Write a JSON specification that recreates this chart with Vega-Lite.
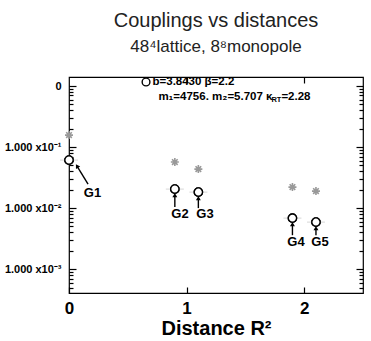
{
  "$schema": "https://vega.github.io/schema/vega-lite/v6.json",
  "width": 294,
  "height": 216,
  "autosize": "none",
  "padding": {"left": 69, "top": 77, "right": 8, "bottom": 48},
  "background": "white",
  "title": {
    "text": "Couplings vs distances",
    "subtitle": "48⁴lattice, 8⁸monopole",
    "font": "Liberation Sans",
    "fontSize": 20,
    "fontWeight": "normal",
    "color": "#222222",
    "subtitleFont": "Liberation Sans",
    "subtitleFontSize": 17,
    "subtitleColor": "#222222",
    "anchor": "middle",
    "offset": 20,
    "subtitlePadding": 8
  },
  "config": {
    "view": {"stroke": "black", "strokeWidth": 1.2},
    "axis": {"grid": false, "domain": false, "ticks": true, "tickColor": "black", "tickWidth": 1.2, "labelColor": "black", "titleColor": "black", "labelFlush": false}
  },
  "datasets": {
    "pts": [
      {"name": "G1", "r2": 0.0, "coupling": 0.0612, "star": 0.157},
      {"name": "G2", "r2": 0.9, "coupling": 0.0205, "star": 0.0568},
      {"name": "G3", "r2": 1.1, "coupling": 0.0183, "star": 0.0436},
      {"name": "G4", "r2": 1.9, "coupling": 0.00686, "star": 0.0221},
      {"name": "G5", "r2": 2.1, "coupling": 0.0059, "star": 0.019}
    ],
    "ann": [
      {"name": "G1", "tx": 0.162, "ty": 0.0247, "hx": 0.068, "hy": 0.0489, "lx": 0.2, "ly": 0.0178},
      {"name": "G2", "tx": 0.9, "ty": 0.0104, "hx": 0.9, "hy": 0.0163, "lx": 0.944, "ly": 0.0080},
      {"name": "G3", "tx": 1.1, "ty": 0.0100, "hx": 1.1, "hy": 0.01459, "lx": 1.156, "ly": 0.0080},
      {"name": "G4", "tx": 1.9, "ty": 0.0036, "hx": 1.9, "hy": 0.00547, "lx": 1.93, "ly": 0.00277},
      {"name": "G5", "tx": 2.1, "ty": 0.0036, "hx": 2.1, "hy": 0.0047, "lx": 2.134, "ly": 0.00277}
    ],
    "leg": [
      {"part": "circle", "x": 0.655, "y": 1.163, "t": ""},
      {"part": "main", "x": 0.71, "y": 1.163, "t": "b=3.8430 β=2.2"},
      {"part": "main", "x": 0.76, "y": 0.66, "t": "m₁=4756. m₂=5.707 κ"},
      {"part": "sub", "x": 0.76, "y": 0.66, "t": "RT"},
      {"part": "tail", "x": 0.76, "y": 0.66, "t": "=2.28"}
    ]
  },
  "layer": [
    {
      "data": {"name": "pts"},
      "mark": {"type": "point", "shape": "circle", "filled": false, "fill": "white", "fillOpacity": 1, "stroke": "black", "strokeWidth": 1.4, "size": 70, "opacity": 1},
      "encoding": {
        "x": {"field": "r2", "type": "quantitative", "scale": {"domain": [0, 2.5], "nice": false, "zero": false},
          "axis": {"orient": "bottom", "values": [0, 1, 2], "format": "d", "offset": -6, "tickSize": 6, "labelPadding": 7,
            "labelFont": "Liberation Sans", "labelFontWeight": "bold", "labelFontSize": 17,
            "title": "Distance R²", "titleFont": "Liberation Sans", "titleFontWeight": "bold", "titleFontSize": 20, "titlePadding": 2}},
        "y": {"field": "coupling", "type": "quantitative", "scale": {"type": "log", "domain": [0.000407, 1.405], "nice": false},
          "axis": {"orient": "left", "title": null, "values": [0.001, 0.01, 0.1, 1],
            "labelExpr": "datum.value == 1 ? '0' : datum.value == 0.1 ? '1.000 x10⁻¹' : datum.value == 0.01 ? '1.000 x10⁻²' : '1.000 x10⁻³'",
            "offset": -7, "tickSize": 7, "labelPadding": 8,
            "labelFont": "Liberation Sans", "labelFontWeight": "bold", "labelFontSize": 11}}
      }
    },
    {
      "data": {"name": "pts"},
      "mark": {"type": "point", "shape": "M0,-1L0,1M-1,0L1,0M-0.7,-0.7L0.7,0.7M-0.7,0.7L0.7,-0.7", "filled": false, "stroke": "#999999", "strokeWidth": 1.6, "size": 64, "opacity": 1},
      "encoding": {
        "x": {"field": "r2", "type": "quantitative", "scale": {"domain": [0, 2.5], "nice": false, "zero": false},
          "axis": {"orient": "top", "values": [1, 2], "labels": false, "tickSize": -6, "title": ""}},
        "y": {"field": "star", "type": "quantitative", "scale": {"type": "log", "domain": [0.000407, 1.405], "nice": false},
          "axis": {"orient": "right", "title": "", "labels": false, "values": [0.001, 0.01, 0.1, 1], "tickSize": -7}}
      }
    },
    {
      "data": {"name": "pts"},
      "mark": {"type": "tick", "orient": "horizontal", "size": 18, "thickness": 1, "color": "#c4c4c4"},
      "encoding": {
        "x": {"field": "r2", "type": "quantitative", "scale": {"domain": [0, 2.5], "nice": false, "zero": false}, "axis": null},
        "y": {"field": "coupling", "type": "quantitative", "scale": {"type": "log", "domain": [0.000407, 1.405], "nice": false},
          "axis": {"orient": "left", "title": "", "labels": false, "tickSize": -4,
            "values": [0.0005, 0.0006, 0.0007, 0.0008, 0.0009, 0.002, 0.003, 0.004, 0.005, 0.006, 0.007, 0.008, 0.009, 0.02, 0.03, 0.04, 0.05, 0.06, 0.07, 0.08, 0.09, 0.2, 0.3, 0.4, 0.5, 0.6, 0.7, 0.8, 0.9]}}
      }
    },
    {
      "data": {"name": "pts"},
      "mark": {"type": "point", "shape": "circle", "filled": false, "fill": "white", "fillOpacity": 1, "stroke": "black", "strokeWidth": 1.4, "size": 70, "opacity": 1},
      "encoding": {
        "x": {"field": "r2", "type": "quantitative", "scale": {"domain": [0, 2.5], "nice": false, "zero": false}, "axis": null},
        "y": {"field": "coupling", "type": "quantitative", "scale": {"type": "log", "domain": [0.000407, 1.405], "nice": false},
          "axis": {"orient": "right", "title": "", "labels": false, "tickSize": -4,
            "values": [0.0005, 0.0006, 0.0007, 0.0008, 0.0009, 0.002, 0.003, 0.004, 0.005, 0.006, 0.007, 0.008, 0.009, 0.02, 0.03, 0.04, 0.05, 0.06, 0.07, 0.08, 0.09, 0.2, 0.3, 0.4, 0.5, 0.6, 0.7, 0.8, 0.9]}}
      }
    },
    {
      "data": {"name": "ann"},
      "mark": {"type": "rule", "color": "black", "strokeWidth": 1.4},
      "encoding": {
        "x": {"field": "tx", "type": "quantitative", "scale": {"domain": [0, 2.5], "nice": false, "zero": false}, "axis": null},
        "y": {"field": "ty", "type": "quantitative", "scale": {"type": "log", "domain": [0.000407, 1.405], "nice": false}, "axis": null},
        "x2": {"field": "hx"},
        "y2": {"field": "hy"}
      }
    },
    {
      "data": {"name": "ann"},
      "transform": [{"filter": "datum.name != 'G1'"}],
      "mark": {"type": "point", "shape": "triangle-up", "filled": true, "color": "black", "size": 24, "opacity": 1},
      "encoding": {
        "x": {"field": "hx", "type": "quantitative", "scale": {"domain": [0, 2.5], "nice": false, "zero": false}, "axis": null},
        "y": {"field": "hy", "type": "quantitative", "scale": {"type": "log", "domain": [0.000407, 1.405], "nice": false}, "axis": null}
      }
    },
    {
      "data": {"name": "ann"},
      "transform": [{"filter": "datum.name == 'G1'"}],
      "mark": {"type": "point", "shape": "triangle-up", "filled": true, "color": "black", "size": 24, "opacity": 1, "angle": 329},
      "encoding": {
        "x": {"field": "hx", "type": "quantitative", "scale": {"domain": [0, 2.5], "nice": false, "zero": false}, "axis": null},
        "y": {"field": "hy", "type": "quantitative", "scale": {"type": "log", "domain": [0.000407, 1.405], "nice": false}, "axis": null}
      }
    },
    {
      "data": {"name": "ann"},
      "mark": {"type": "text", "font": "Liberation Sans", "fontWeight": "bold", "fontSize": 13, "color": "black", "align": "center", "baseline": "middle"},
      "encoding": {
        "x": {"field": "lx", "type": "quantitative", "scale": {"domain": [0, 2.5], "nice": false, "zero": false}, "axis": null},
        "y": {"field": "ly", "type": "quantitative", "scale": {"type": "log", "domain": [0.000407, 1.405], "nice": false}, "axis": null},
        "text": {"field": "name"}
      }
    },
    {
      "data": {"name": "leg"},
      "transform": [{"filter": "datum.part == 'circle'"}],
      "mark": {"type": "point", "shape": "circle", "filled": false, "stroke": "black", "strokeWidth": 1.4, "size": 60, "opacity": 1},
      "encoding": {
        "x": {"field": "x", "type": "quantitative", "scale": {"domain": [0, 2.5], "nice": false, "zero": false}, "axis": null},
        "y": {"field": "y", "type": "quantitative", "scale": {"type": "log", "domain": [0.000407, 1.405], "nice": false}, "axis": null}
      }
    },
    {
      "data": {"name": "leg"},
      "transform": [{"filter": "datum.part == 'main'"}],
      "mark": {"type": "text", "font": "Liberation Sans", "fontWeight": "bold", "fontSize": 11.5, "color": "black", "align": "left", "baseline": "middle"},
      "encoding": {
        "x": {"field": "x", "type": "quantitative", "scale": {"domain": [0, 2.5], "nice": false, "zero": false}, "axis": null},
        "y": {"field": "y", "type": "quantitative", "scale": {"type": "log", "domain": [0.000407, 1.405], "nice": false}, "axis": null},
        "text": {"field": "t"}
      }
    },
    {
      "data": {"name": "leg"},
      "transform": [{"filter": "datum.part == 'sub'"}],
      "mark": {"type": "text", "font": "Liberation Sans", "fontWeight": "bold", "fontSize": 7.5, "color": "black", "align": "left", "baseline": "middle", "dx": 113, "dy": 3},
      "encoding": {
        "x": {"field": "x", "type": "quantitative", "scale": {"domain": [0, 2.5], "nice": false, "zero": false}, "axis": null},
        "y": {"field": "y", "type": "quantitative", "scale": {"type": "log", "domain": [0.000407, 1.405], "nice": false}, "axis": null},
        "text": {"field": "t"}
      }
    },
    {
      "data": {"name": "leg"},
      "transform": [{"filter": "datum.part == 'tail'"}],
      "mark": {"type": "text", "font": "Liberation Sans", "fontWeight": "bold", "fontSize": 11.5, "color": "black", "align": "left", "baseline": "middle", "dx": 123},
      "encoding": {
        "x": {"field": "x", "type": "quantitative", "scale": {"domain": [0, 2.5], "nice": false, "zero": false}, "axis": null},
        "y": {"field": "y", "type": "quantitative", "scale": {"type": "log", "domain": [0.000407, 1.405], "nice": false}, "axis": null},
        "text": {"field": "t"}
      }
    }
  ],
  "resolve": {"axis": {"x": "independent", "y": "independent"}}
}
